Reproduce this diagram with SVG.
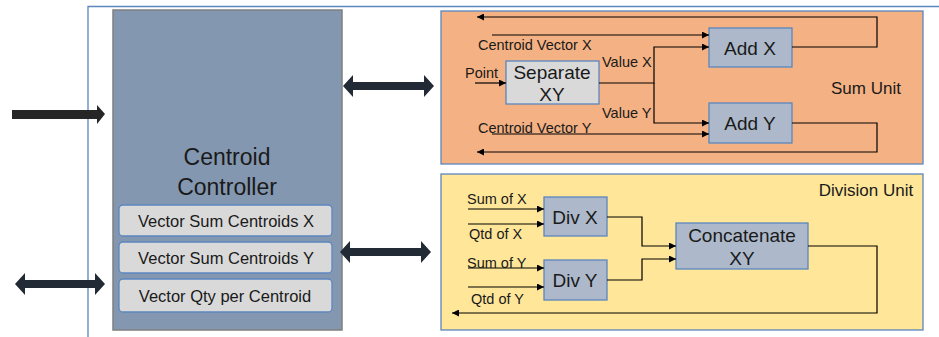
<svg xmlns="http://www.w3.org/2000/svg" width="939" height="337" viewBox="0 0 939 337">
<defs>
<marker id="ah" viewBox="0 0 8 8" refX="8" refY="4" markerWidth="7" markerHeight="7" markerUnits="userSpaceOnUse" orient="auto"><path d="M0,0 L8,4 L0,8 z" fill="#000"/></marker>
<style>
text{font-family:"Liberation Sans",Arial,sans-serif;fill:#1a1a1a}
.blk{fill:#adb9ca;stroke:#5b86bf;stroke-width:1.3}
.sub{fill:#d9d9d9;stroke:#5b86bf;stroke-width:1.3}
.ln{fill:none;stroke:#000;stroke-width:1.2}
.arr{marker-end:url(#ah)}
.big{fill:#222a35}
.lbl{font-size:14.5px}
.bt{font-size:19px;text-anchor:middle}
.st{font-size:16.5px;text-anchor:middle}
.ut{font-size:17px;text-anchor:middle}
</style>
</defs>
<rect width="939" height="337" fill="#fff"/>
<path d="M88,337 V6.5 H939" fill="none" stroke="#5b86bf" stroke-width="1.3"/>
<g id="controller">
<rect x="113" y="10" width="229" height="320" fill="#8497b0" stroke="#7f7f7f" stroke-width="1.5"/>
<text x="227" y="165" font-size="23" text-anchor="middle">Centroid</text>
<text x="227" y="195" font-size="23" text-anchor="middle">Controller</text>
</g>
<g id="vsx"><rect class="sub" x="119" y="205" width="213" height="31" rx="4"/><text class="st" x="226" y="227">Vector Sum Centroids X</text></g>
<g id="vsy"><rect class="sub" x="119" y="242" width="213" height="31" rx="4"/><text class="st" x="226" y="264">Vector Sum Centroids Y</text></g>
<g id="vqty"><rect class="sub" x="119" y="279" width="213" height="33" rx="4"/><text class="st" x="225" y="302">Vector Qty per Centroid</text></g>

<g id="sumunit">
<rect x="441" y="11" width="482" height="153" fill="#f4b183" stroke="#5b86bf" stroke-width="1.3"/>
<text class="ut" x="866" y="94">Sum Unit</text>
</g>
<g id="separate"><rect class="sub" x="506" y="61" width="93" height="43"/><text class="bt" x="552" y="79">Separate</text><text class="bt" x="552" y="101">XY</text></g>
<g id="addx"><rect class="blk" x="709" y="28" width="83" height="39"/><text class="bt" x="750" y="55">Add X</text></g>
<g id="addy"><rect class="blk" x="709" y="103" width="83" height="40"/><text class="bt" x="750" y="130">Add Y</text></g>

<g id="divunit">
<rect x="441" y="174" width="482" height="156" fill="#ffe699" stroke="#5b86bf" stroke-width="1.3"/>
<text class="ut" x="866" y="196">Division Unit</text>
</g>
<g id="divx"><rect class="blk" x="544" y="197" width="63" height="39"/><text class="bt" x="575" y="224">Div X</text></g>
<g id="divy"><rect class="blk" x="544" y="260" width="63" height="40"/><text class="bt" x="575" y="287">Div Y</text></g>
<g id="concat"><rect class="blk" x="676" y="223" width="132" height="46"/><text class="bt" x="742" y="242">Concatenate</text><text class="bt" x="742" y="265">XY</text></g>

<g id="connectors">
<polygon points="12,110 97,110 97,105 105,114 97,124 97,119 12,119" fill="#262626"/>
<polygon class="big" points="15,284 25,273 25,280 95,280 95,273 105,284 95,295 95,288 25,288 25,295"/>
<polygon class="big" points="343,86 353,75 353,82 424,82 424,75 434,86 424,97 424,90 353,90 353,97"/>
<polygon class="big" points="340,252 350,241 350,248 421,248 421,241 431,252 421,263 421,256 350,256 350,263"/>

<path class="ln arr" d="M792,47 H877 V17 H477"/>
<path class="ln arr" d="M492,35 H709"/>
<path class="ln arr" d="M599,83 H654 V47 H709"/>
<path class="ln arr" d="M654,83 V123 H709"/>
<path class="ln arr" d="M475,83 H506"/>
<path class="ln arr" d="M492,134 H709"/>
<path class="ln arr" d="M792,123 H877 V152 H477"/>

<path class="ln arr" d="M468,209 H544"/>
<path class="ln arr" d="M468,224 H544"/>
<path class="ln arr" d="M468,268 H544"/>
<path class="ln arr" d="M468,287 H544"/>
<path class="ln arr" d="M607,217 H642 V246 H676"/>
<path class="ln arr" d="M607,280 H642 V259 H676"/>
<path class="ln arr" d="M808,246 H877 V313 H452"/>

<text class="lbl" x="478" y="50">Centroid Vector X</text>
<text class="lbl" x="465" y="78">Point</text>
<text class="lbl" x="602" y="67">Value X</text>
<text class="lbl" x="602" y="118">Value Y</text>
<text class="lbl" x="478" y="133">Centroid Vector Y</text>
<text class="lbl" x="467" y="204">Sum of X</text>
<text class="lbl" x="469" y="239">Qtd of X</text>
<text class="lbl" x="467" y="268">Sum of Y</text>
<text class="lbl" x="471" y="304">Qtd of Y</text>
</g>
</svg>
